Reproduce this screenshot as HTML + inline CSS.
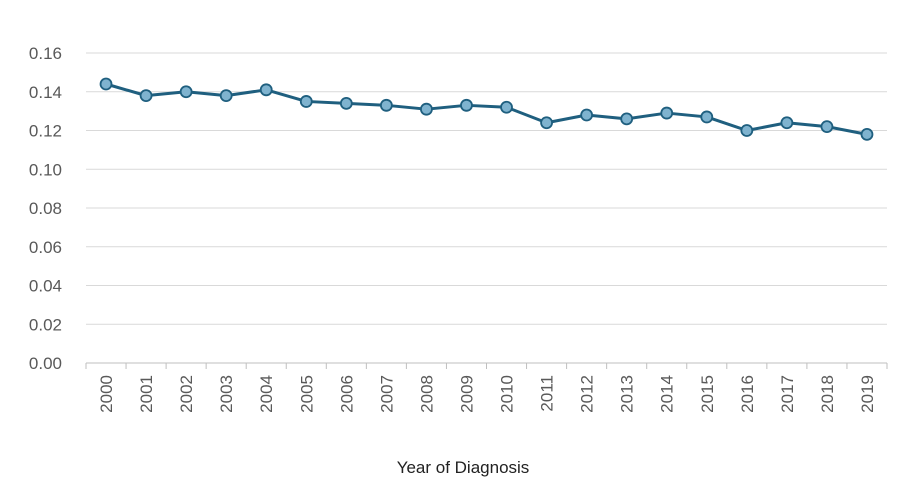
<!DOCTYPE html>
<html><head><meta charset="utf-8"><style>
body{margin:0;background:#fff;}
svg{display:block;font-family:"Liberation Sans",sans-serif;}
</style></head><body>
<svg id="chart" width="910" height="490">
<g id="grid"></g><g id="axes"></g><g id="series"></g>
<text x="463" y="473" text-anchor="middle" font-size="17" fill="#222">Year of Diagnosis</text>
</svg>
<script>
const years=["2000","2001","2002","2003","2004","2005","2006","2007","2008","2009","2010","2011","2012","2013","2014","2015","2016","2017","2018","2019"];
const values=[0.144,0.138,0.140,0.138,0.141,0.135,0.134,0.133,0.131,0.133,0.132,0.124,0.128,0.126,0.129,0.127,0.120,0.124,0.122,0.118];
const yTicks=[0,0.02,0.04,0.06,0.08,0.10,0.12,0.14,0.16];
const NS="http://www.w3.org/2000/svg";
const x0=86,x1=887,y0=363,y1=53,yMax=0.16;
const step=(x1-x0)/years.length;
const X=i=>x0+step*(i+0.5);
const Y=v=>y0-(v/yMax)*(y0-y1);
function mk(t,a,p){const e=document.createElementNS(NS,t);for(const k in a)e.setAttribute(k,a[k]);p.appendChild(e);return e;}
const grid=document.getElementById('grid'),axes=document.getElementById('axes'),ser=document.getElementById('series');
yTicks.forEach(v=>{
 if(v>0){const l=mk('line',{x1:x0,x2:x1,y1:Y(v),y2:Y(v),stroke:'#d9d9d9','stroke-width':1},grid);
 
 }
 const t=mk('text',{x:62,y:Y(v)+6,'text-anchor':'end','font-size':17,fill:'#595959'},axes);
 t.textContent=v.toFixed(2);
 
 
});
const ax=mk('line',{x1:x0,x2:x1,y1:y0,y2:y0,stroke:'#bfbfbf','stroke-width':1},axes);


for(let i=0;i<=years.length;i++){
 const tk=mk('line',{x1:x0+step*i,x2:x0+step*i,y1:y0,y2:y0+6,stroke:'#bfbfbf'},axes);
 
 
}
years.forEach((yr,i)=>{
 const t=mk('text',{x:0,y:0,'font-size':17,fill:'#595959','text-anchor':'end',transform:`translate(${X(i)+6},${y0+12}) rotate(-90)`},axes);
 t.textContent=yr;
 
 
});
const pts=values.map((v,i)=>X(i)+','+Y(v)).join(' ');
const pl=mk('polyline',{points:pts,fill:'none',stroke:'#1f5f7f','stroke-width':3,'stroke-linejoin':'round'},ser);


values.forEach((v,i)=>{
 const c=mk('circle',{cx:X(i),cy:Y(v),r:5.5,fill:'#7fb3cf',stroke:'#1f5f7f','stroke-width':1.8},ser);
 
 
});
</script>
</body></html>
